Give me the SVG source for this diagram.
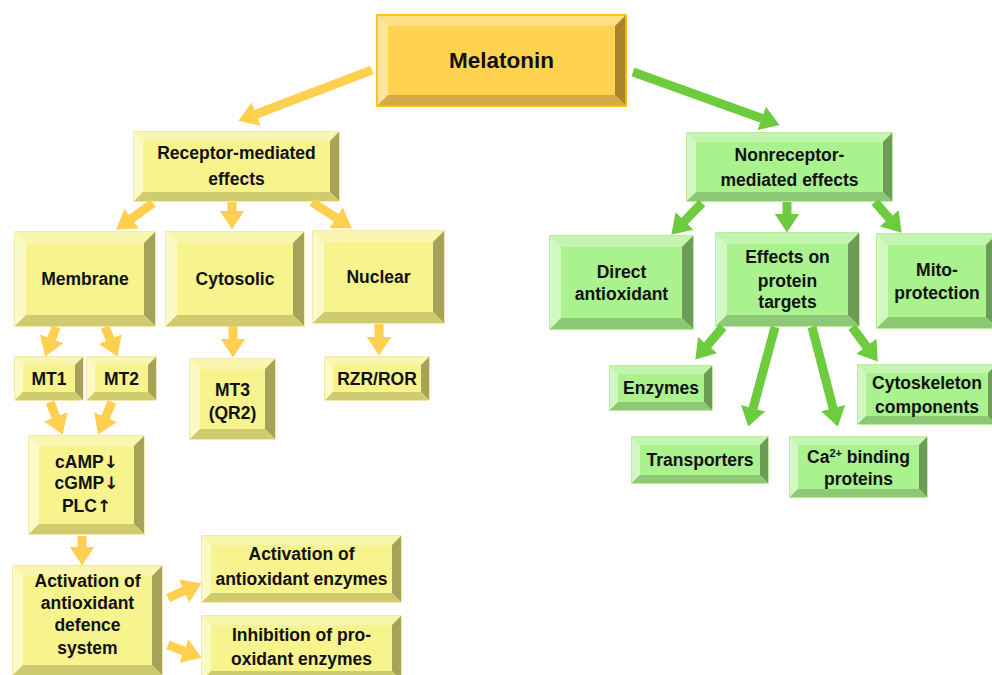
<svg xmlns="http://www.w3.org/2000/svg" width="992" height="675" viewBox="0 0 992 675">
<style>
text{font-family:"Liberation Sans",Arial,sans-serif;font-weight:bold;font-size:17.5px;fill:#111;text-anchor:middle}
.big{font-size:22.5px}
.sup{font-size:11px}
.arr{font-family:"DejaVu Sans",sans-serif;font-size:17px}
.y .f{fill:#F7F38D;stroke:#F5D77F;stroke-width:1.2}
.y .t{fill:#F9F6B0}.y .l{fill:#FBF9C6}.y .r{fill:#A6A259}.y .b{fill:#CFCB6F}
.m .f{fill:#FFD34F;stroke:#FFC000;stroke-width:1.5}
.m .t{fill:#FFDF84}.m .l{fill:#FFE69C}.m .r{fill:#A8832C}.m .b{fill:#D4AA45}
.g .f{fill:#A9F28E;stroke:#8FDF6C;stroke-width:1.2}
.g .t{fill:#C3F5AE}.g .l{fill:#D0F8C0}.g .r{fill:#6C9C58}.g .b{fill:#8DC874}
.ay{stroke:#FFCF4F;stroke-width:9;fill:none;marker-end:url(#hy)}
.ag{stroke:#6DCB3E;stroke-width:9;fill:none;marker-end:url(#hg)}
</style>
<defs>
<marker id="hy" markerUnits="userSpaceOnUse" markerWidth="19" markerHeight="25" viewBox="0 0 19 25" refX="0.5" refY="12.5" orient="auto"><path d="M0,0 L19,12.5 L0,25 z" fill="#FFCF4F"/></marker>
<marker id="hg" markerUnits="userSpaceOnUse" markerWidth="19" markerHeight="25" viewBox="0 0 19 25" refX="0.5" refY="12.5" orient="auto"><path d="M0,0 L19,12.5 L0,25 z" fill="#6DCB3E"/></marker>
</defs>
<rect width="992" height="675" fill="#fff"/>

<g id="melatonin" class="m">
<rect class="f" x="377" y="15" width="249" height="91"/>
<polygon class="t" points="377,15 626,15 615,26 388,26"/><polygon class="l" points="377,15 388,26 388,95 377,106"/><polygon class="r" points="626,15 626,106 615,95 615,26"/><polygon class="b" points="377,106 388,95 615,95 626,106"/>
<rect x="377" y="15" width="249" height="91" fill="none" stroke="#FFC000" stroke-width="1.5"/>
<text class="big" x="501.5" y="68">Melatonin</text>
</g>

<g id="receptor" class="y">
<rect class="f" x="134" y="132" width="205" height="69"/>
<polygon class="t" points="134,132 339,132 330,141 143,141"/><polygon class="l" points="134,132 143,141 143,192 134,201"/><polygon class="r" points="339,132 339,201 330,192 330,141"/><polygon class="b" points="134,201 143,192 330,192 339,201"/>
<text x="236.5" y="159">Receptor-mediated</text><text x="236.5" y="185">effects</text>
</g>

<g id="nonreceptor" class="g">
<rect class="f" x="687" y="133" width="205" height="68"/>
<polygon class="t" points="687,133 892,133 883,142 696,142"/><polygon class="l" points="687,133 696,142 696,192 687,201"/><polygon class="r" points="892,133 892,201 883,192 883,142"/><polygon class="b" points="687,201 696,192 883,192 892,201"/>
<text x="789.5" y="161">Nonreceptor-</text><text x="789.5" y="186">mediated effects</text>
</g>

<g id="membrane" class="y">
<rect class="f" x="15" y="232" width="140" height="94"/>
<polygon class="t" points="15,232 155,232 144,243 26,243"/><polygon class="l" points="15,232 26,243 26,315 15,326"/><polygon class="r" points="155,232 155,326 144,315 144,243"/><polygon class="b" points="15,326 26,315 144,315 155,326"/>
<text x="85" y="285">Membrane</text>
</g>

<g id="cytosolic" class="y">
<rect class="f" x="166" y="232" width="138" height="94"/>
<polygon class="t" points="166,232 304,232 293,243 177,243"/><polygon class="l" points="166,232 177,243 177,315 166,326"/><polygon class="r" points="304,232 304,326 293,315 293,243"/><polygon class="b" points="166,326 177,315 293,315 304,326"/>
<text x="235" y="285">Cytosolic</text>
</g>

<g id="nuclear" class="y">
<rect class="f" x="313" y="231" width="131" height="92"/>
<polygon class="t" points="313,231 444,231 433,242 324,242"/><polygon class="l" points="313,231 324,242 324,312 313,323"/><polygon class="r" points="444,231 444,323 433,312 433,242"/><polygon class="b" points="313,323 324,312 433,312 444,323"/>
<text x="378.5" y="283">Nuclear</text>
</g>

<g id="mt1" class="y">
<rect class="f" x="15" y="357" width="68" height="43"/>
<polygon class="t" points="15,357 83,357 75,365 23,365"/><polygon class="l" points="15,357 23,365 23,392 15,400"/><polygon class="r" points="83,357 83,400 75,392 75,365"/><polygon class="b" points="15,400 23,392 75,392 83,400"/>
<text x="49" y="385">MT1</text>
</g>

<g id="mt2" class="y">
<rect class="f" x="87" y="357" width="69" height="43"/>
<polygon class="t" points="87,357 156,357 148,365 95,365"/><polygon class="l" points="87,357 95,365 95,392 87,400"/><polygon class="r" points="156,357 156,400 148,392 148,365"/><polygon class="b" points="87,400 95,392 148,392 156,400"/>
<text x="121.5" y="385">MT2</text>
</g>

<g id="mt3" class="y">
<rect class="f" x="190" y="359" width="85" height="80"/>
<polygon class="t" points="190,359 275,359 265,369 200,369"/><polygon class="l" points="190,359 200,369 200,429 190,439"/><polygon class="r" points="275,359 275,439 265,429 265,369"/><polygon class="b" points="190,439 200,429 265,429 275,439"/>
<text x="232.5" y="396">MT3</text><text x="232.5" y="419">(QR2)</text>
</g>

<g id="rzr" class="y">
<rect class="f" x="325" y="357" width="104" height="43"/>
<polygon class="t" points="325,357 429,357 421,365 333,365"/><polygon class="l" points="325,357 333,365 333,392 325,400"/><polygon class="r" points="429,357 429,400 421,392 421,365"/><polygon class="b" points="325,400 333,392 421,392 429,400"/>
<text x="377" y="385">RZR/ROR</text>
</g>

<g id="camp" class="y">
<rect class="f" x="29" y="436" width="115" height="98"/>
<polygon class="t" points="29,436 144,436 134,446 39,446"/><polygon class="l" points="29,436 39,446 39,524 29,534"/><polygon class="r" points="144,436 144,534 134,524 134,446"/><polygon class="b" points="29,534 39,524 134,524 144,534"/>
<text x="86.5" y="468">cAMP<tspan class="arr">↓</tspan></text><text x="86.5" y="489">cGMP<tspan class="arr">↓</tspan></text><text x="86.5" y="512">PLC<tspan class="arr">↑</tspan></text>
</g>

<g id="defence" class="y">
<rect class="f" x="13" y="566" width="149" height="109"/>
<polygon class="t" points="13,566 162,566 152,576 23,576"/><polygon class="l" points="13,566 23,576 23,665 13,675"/><polygon class="r" points="162,566 162,675 152,665 152,576"/><polygon class="b" points="13,675 23,665 152,665 162,675"/>
<text x="87.5" y="587">Activation of</text><text x="87.5" y="609">antioxidant</text><text x="87.5" y="631">defence</text><text x="87.5" y="654">system</text>
</g>

<g id="actenz" class="y">
<rect class="f" x="202" y="536" width="199" height="66"/>
<polygon class="t" points="202,536 401,536 392,545 211,545"/><polygon class="l" points="202,536 211,545 211,593 202,602"/><polygon class="r" points="401,536 401,602 392,593 392,545"/><polygon class="b" points="202,602 211,593 392,593 401,602"/>
<text x="301.5" y="560">Activation of</text><text x="301.5" y="585">antioxidant enzymes</text>
</g>

<g id="inhib" class="y">
<rect class="f" x="202" y="616" width="199" height="64"/>
<polygon class="t" points="202,616 401,616 392,625 211,625"/><polygon class="l" points="202,616 211,625 211,671 202,680"/><polygon class="r" points="401,616 401,680 392,671 392,625"/><polygon class="b" points="202,680 211,671 392,671 401,680"/>
<text x="301.5" y="641">Inhibition of pro-</text><text x="301.5" y="665">oxidant enzymes</text>
</g>

<g id="direct" class="g">
<rect class="f" x="550" y="236" width="143" height="93"/>
<polygon class="t" points="550,236 693,236 682,247 561,247"/><polygon class="l" points="550,236 561,247 561,318 550,329"/><polygon class="r" points="693,236 693,329 682,318 682,247"/><polygon class="b" points="550,329 561,318 682,318 693,329"/>
<text x="621.5" y="278">Direct</text><text x="621.5" y="300">antioxidant</text>
</g>

<g id="effects" class="g">
<rect class="f" x="716" y="233" width="143" height="93"/>
<polygon class="t" points="716,233 859,233 848,244 727,244"/><polygon class="l" points="716,233 727,244 727,315 716,326"/><polygon class="r" points="859,233 859,326 848,315 848,244"/><polygon class="b" points="716,326 727,315 848,315 859,326"/>
<text x="787.5" y="263">Effects on</text><text x="787.5" y="287">protein</text><text x="787.5" y="308">targets</text>
</g>

<g id="mito" class="g">
<rect class="f" x="877" y="234" width="120" height="94"/>
<polygon class="t" points="877,234 997,234 986,245 888,245"/><polygon class="l" points="877,234 888,245 888,317 877,328"/><polygon class="r" points="997,234 997,328 986,317 986,245"/><polygon class="b" points="877,328 888,317 986,317 997,328"/>
<text x="937" y="276">Mito-</text><text x="937" y="299">protection</text>
</g>

<g id="enzymes" class="g">
<rect class="f" x="610" y="366" width="102" height="44"/>
<polygon class="t" points="610,366 712,366 704,374 618,374"/><polygon class="l" points="610,366 618,374 618,402 610,410"/><polygon class="r" points="712,366 712,410 704,402 704,374"/><polygon class="b" points="610,410 618,402 704,402 712,410"/>
<text x="661" y="394">Enzymes</text>
</g>

<g id="cytoskeleton" class="g">
<rect class="f" x="858" y="365" width="138" height="59"/>
<polygon class="t" points="858,365 996,365 988,373 866,373"/><polygon class="l" points="858,365 866,373 866,416 858,424"/><polygon class="r" points="996,365 996,424 988,416 988,373"/><polygon class="b" points="858,424 866,416 988,416 996,424"/>
<text x="927" y="389">Cytoskeleton</text><text x="927" y="413">components</text>
</g>

<g id="transporters" class="g">
<rect class="f" x="632" y="437" width="136" height="46"/>
<polygon class="t" points="632,437 768,437 760,445 640,445"/><polygon class="l" points="632,437 640,445 640,475 632,483"/><polygon class="r" points="768,437 768,483 760,475 760,445"/><polygon class="b" points="632,483 640,475 760,475 768,483"/>
<text x="700" y="466">Transporters</text>
</g>

<g id="ca" class="g">
<rect class="f" x="790" y="437" width="137" height="60"/>
<polygon class="t" points="790,437 927,437 919,445 798,445"/><polygon class="l" points="790,437 798,445 798,489 790,497"/><polygon class="r" points="927,437 927,497 919,489 919,445"/><polygon class="b" points="790,497 798,489 919,489 927,497"/>
<text x="858.5" y="463">Ca<tspan class="sup" dy="-6">2+</tspan><tspan dy="6"> binding</tspan></text><text x="858.5" y="485">proteins</text>
</g>

<g id="connectors">
<line class="ay" x1="372" y1="70" x2="255.7" y2="114.2"/>
<line class="ay" x1="153" y1="203" x2="131.3" y2="218.8"/>
<line class="ay" x1="232" y1="202" x2="232" y2="211"/>
<line class="ay" x1="312" y1="202" x2="336.4" y2="218.1"/>
<line class="ay" x1="56" y1="327" x2="51.5" y2="339.2"/>
<line class="ay" x1="105" y1="327" x2="110.4" y2="339.6"/>
<line class="ay" x1="233" y1="326" x2="233" y2="339"/>
<line class="ay" x1="379" y1="324" x2="379" y2="337"/>
<line class="ay" x1="50" y1="402" x2="56" y2="417.3"/>
<line class="ay" x1="112" y1="402" x2="105.4" y2="417.5"/>
<line class="ay" x1="82" y1="536" x2="82" y2="547"/>
<line class="ay" x1="168" y1="598" x2="184.6" y2="590.7"/>
<line class="ay" x1="168" y1="645" x2="184.3" y2="651.2"/>
<line class="ag" x1="633" y1="72" x2="762.1" y2="118.6"/>
<line class="ag" x1="702" y1="203" x2="684.2" y2="221.4"/>
<line class="ag" x1="787" y1="202" x2="787" y2="214"/>
<line class="ag" x1="875" y1="202" x2="889.5" y2="218.7"/>
<line class="ag" x1="723" y1="327" x2="707.3" y2="345.5"/>
<line class="ag" x1="775" y1="327" x2="753" y2="408.7"/>
<line class="ag" x1="812" y1="327" x2="833.2" y2="408.6"/>
<line class="ag" x1="852" y1="327" x2="866.7" y2="346.7"/>
</g>
</svg>
